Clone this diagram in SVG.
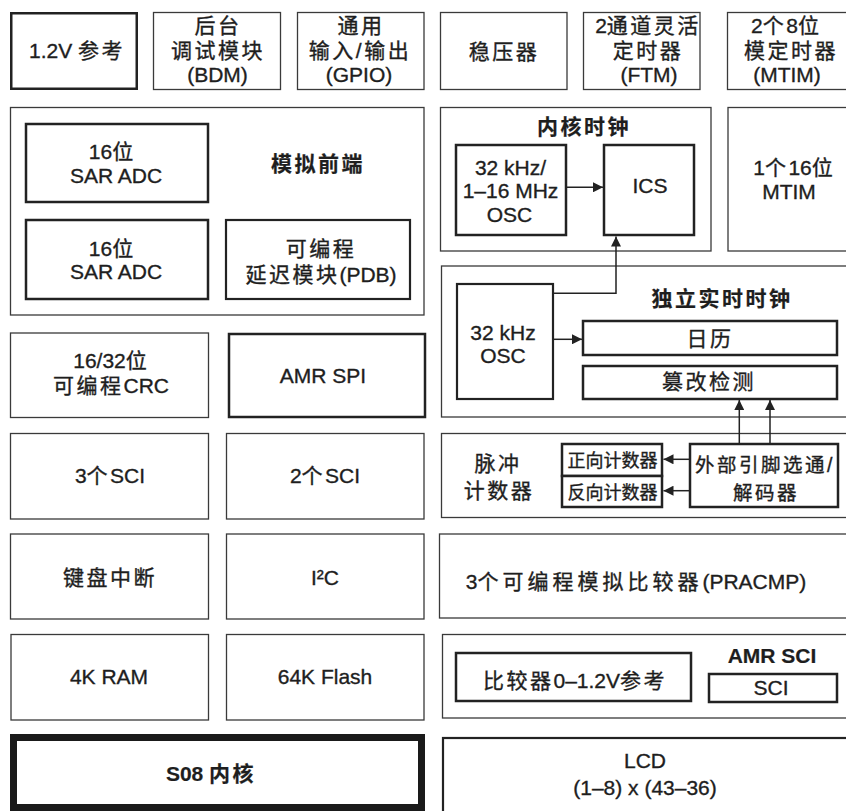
<svg xmlns="http://www.w3.org/2000/svg" width="846" height="811" viewBox="0 0 846 811">
<style>
.thin{fill:#fff;stroke:#3a3a3a;stroke-width:1.3}
.med{fill:#fff;stroke:#222;stroke-width:2.5}
.heavy{fill:#fff;stroke:#1a1a1a;stroke-width:7}
.t{font-family:"Liberation Sans","Noto Sans CJK SC",sans-serif;font-size:21px;fill:#1e1e1e;stroke:#1e1e1e;stroke-width:0.35;text-anchor:middle}
.s{font-size:18px}
.b{font-weight:bold;stroke-width:0.2}
.c{letter-spacing:2.5px}
.cw{letter-spacing:4px}
.ln{fill:none;stroke:#222;stroke-width:1.5}
</style>
<defs>
<marker id="ah" viewBox="0 0 10 10" refX="10" refY="5" markerWidth="11" markerHeight="10" orient="auto" markerUnits="userSpaceOnUse">
<path d="M0,0 L10,5 L0,10 z" fill="#222"/>
</marker>
</defs>
<rect width="846" height="811" fill="#fff"/>

<g id="ref12v"><rect class="med" x="11.25" y="13.25" width="125.5" height="75.5"/>
<text class="t" x="77" y="58">1.2V <tspan class="c">参考</tspan></text></g>

<g id="bdm"><rect class="thin" x="153.5" y="12.5" width="127" height="77"/>
<text class="t c" x="218" y="33">后台</text>
<text class="t c" x="218" y="57.5">调试模块</text>
<text class="t" x="217.5" y="81.5">(BDM)</text></g>

<g id="gpio"><rect class="thin" x="297.5" y="12.5" width="126.5" height="77"/>
<text class="t c" x="361" y="33">通用</text>
<text class="t c" x="360" y="57.5">输入/输出</text>
<text class="t" x="359" y="81.5">(GPIO)</text></g>

<g id="reg"><rect class="thin" x="440.5" y="12.5" width="126.5" height="77"/>
<text class="t c" x="504" y="59">稳压器</text></g>

<g id="ftm"><rect class="thin" x="583.5" y="12.5" width="116.5" height="77"/>
<text class="t" x="648" y="33">2<tspan class="c">通道灵活</tspan></text>
<text class="t c" x="648" y="57.5">定时器</text>
<text class="t" x="649" y="81.5">(FTM)</text></g>

<g id="mtim8"><rect class="thin" x="727.5" y="12.5" width="130" height="77"/>
<text class="t" x="785" y="33">2<tspan class="c">个</tspan>8位</text>
<text class="t c" x="791" y="57.5">模定时器</text>
<text class="t" x="787" y="81.5">(MTIM)</text></g>

<g id="afe"><rect class="thin" x="10.5" y="107.5" width="413.5" height="207.5"/>
<text class="t b c" x="318" y="170.5">模拟前端</text></g>

<g id="adc1"><rect class="med" x="26" y="124" width="182" height="78"/>
<text class="t" x="111" y="159">16位</text>
<text class="t" x="116" y="182.5">SAR ADC</text></g>

<g id="adc2"><rect class="med" x="26" y="220" width="182" height="79"/>
<text class="t" x="111" y="255.5">16位</text>
<text class="t" x="116" y="279">SAR ADC</text></g>

<g id="pdb"><rect class="med" x="226" y="220" width="184" height="79" style="stroke-width:2.2"/>
<text class="t c" x="321" y="255.5">可编程</text>
<text class="t" x="321" y="281.5"><tspan class="c">延迟模块</tspan>(PDB)</text></g>

<g id="coreclk"><rect class="thin" x="440.5" y="107.5" width="270.5" height="143.5"/>
<text class="t b c" x="584" y="134">内核时钟</text></g>

<g id="osc1"><rect class="med" x="456" y="145" width="110" height="90"/>
<text class="t" x="510.5" y="174.5">32 kHz/</text>
<text class="t" x="510.5" y="197.5">1–16 MHz</text>
<text class="t" x="509.5" y="221.5">OSC</text></g>

<g id="ics"><rect class="med" x="604" y="145" width="90" height="90"/>
<text class="t" x="650" y="192.5">ICS</text></g>

<g id="mtim16"><rect class="thin" x="728" y="107.5" width="130" height="143.5"/>
<text class="t" x="793" y="175">1<tspan class="c">个</tspan>16位</text>
<text class="t" x="789" y="198.5">MTIM</text></g>

<g id="rtc"><rect class="thin" x="441.5" y="266" width="416" height="151"/>
<text class="t b c" x="722" y="306">独立实时时钟</text></g>

<g id="osc2"><rect class="med" x="457" y="284" width="96" height="115" style="stroke-width:2.2"/>
<text class="t" x="503" y="340">32 kHz</text>
<text class="t" x="503" y="363">OSC</text></g>

<g id="cal"><rect class="med" x="583" y="321" width="254" height="34"/>
<text class="t c" x="710" y="345.5">日历</text></g>

<g id="tamper"><rect class="med" x="583" y="366" width="254" height="33"/>
<text class="t c" x="709" y="389">篡改检测</text></g>

<g id="crc"><rect class="thin" x="10.5" y="333" width="198" height="84.5"/>
<text class="t" x="110" y="367.5">16/32位</text>
<text class="t" x="111" y="392.5"><tspan class="c">可编程</tspan>CRC</text></g>

<g id="amrspi"><rect class="med" x="229" y="334" width="196" height="83"/>
<text class="t" x="323" y="383">AMR SPI</text></g>

<g id="pulse"><rect class="thin" x="441.5" y="433.5" width="416" height="84"/>
<text class="t c" x="498" y="471">脉冲</text>
<text class="t c" x="499" y="498">计数器</text></g>

<g id="upcnt"><rect class="med" x="562" y="444" width="100" height="32"/>
<text class="t s" x="612.5" y="467">正向计数器</text></g>

<g id="dncnt"><rect class="med" x="562" y="476" width="100" height="31"/>
<text class="t s" x="612.5" y="499">反向计数器</text></g>

<g id="pinsel"><rect class="med" x="690" y="444" width="148" height="63"/>
<text class="t c" x="765" y="472" style="font-size:19.5px">外部引脚选通/</text>
<text class="t c" x="766" y="500" style="font-size:19.5px">解码器</text></g>

<g id="sci3"><rect class="thin" x="10.5" y="433.5" width="198" height="85.5"/>
<text class="t" x="110" y="483">3<tspan class="c">个</tspan>SCI</text></g>

<g id="sci2"><rect class="thin" x="226.5" y="433.5" width="197.5" height="85.5"/>
<text class="t" x="325" y="483">2<tspan class="c">个</tspan>SCI</text></g>

<g id="kbi"><rect class="thin" x="10.5" y="534" width="198" height="85"/>
<text class="t c" x="110" y="585">键盘中断</text></g>

<g id="i2c"><rect class="thin" x="226.5" y="534" width="197.5" height="85"/>
<text class="t" x="325" y="585">I²C</text></g>

<g id="pracmp"><rect class="thin" x="439.5" y="534" width="418" height="84"/>
<text class="t" x="636" y="589">3<tspan class="cw">个可编程模拟比较器</tspan>(PRACMP)</text></g>

<g id="ram"><rect class="thin" x="11" y="634.5" width="197.5" height="85.5"/>
<text class="t" x="109" y="684">4K RAM</text></g>

<g id="flash"><rect class="thin" x="226.5" y="634.5" width="197.5" height="85.5"/>
<text class="t" x="325" y="684">64K Flash</text></g>

<g id="amrsci"><rect class="thin" x="442.5" y="634.5" width="415" height="83.5"/>
<text class="t b" x="772" y="663">AMR SCI</text></g>

<g id="cmpref"><rect class="med" x="456" y="653" width="235" height="48"/>
<text class="t" x="575" y="687.5"><tspan class="c">比较器</tspan>0–1.2V<tspan class="c">参考</tspan></text></g>

<g id="sci"><rect class="med" x="709" y="674" width="128" height="28"/>
<text class="t" x="771" y="695">SCI</text></g>

<g id="s08"><rect class="heavy" x="13.5" y="737.5" width="408" height="70"/>
<text class="t b" x="211" y="780.5">S08 <tspan class="c">内核</tspan></text></g>

<g id="lcd"><rect class="med" x="443" y="738" width="420" height="90" style="stroke-width:2.2"/>
<text class="t" x="645" y="768">LCD</text>
<text class="t" x="645" y="795">(1–8) x (43–36)</text></g>

<g id="connectors">
<path class="ln" d="M566,187.3 H603" marker-end="url(#ah)"/>
<path class="ln" d="M553,293.3 H616 V236.5" marker-end="url(#ah)"/>
<path class="ln" d="M553,339.3 H582" marker-end="url(#ah)"/>
<path class="ln" d="M739.3,443 V400" marker-end="url(#ah)"/>
<path class="ln" d="M770,443 V400" marker-end="url(#ah)"/>
<path class="ln" d="M689,459.3 H663.5" marker-end="url(#ah)"/>
<path class="ln" d="M689,490.7 H663.5" marker-end="url(#ah)"/>
</g>
</svg>
